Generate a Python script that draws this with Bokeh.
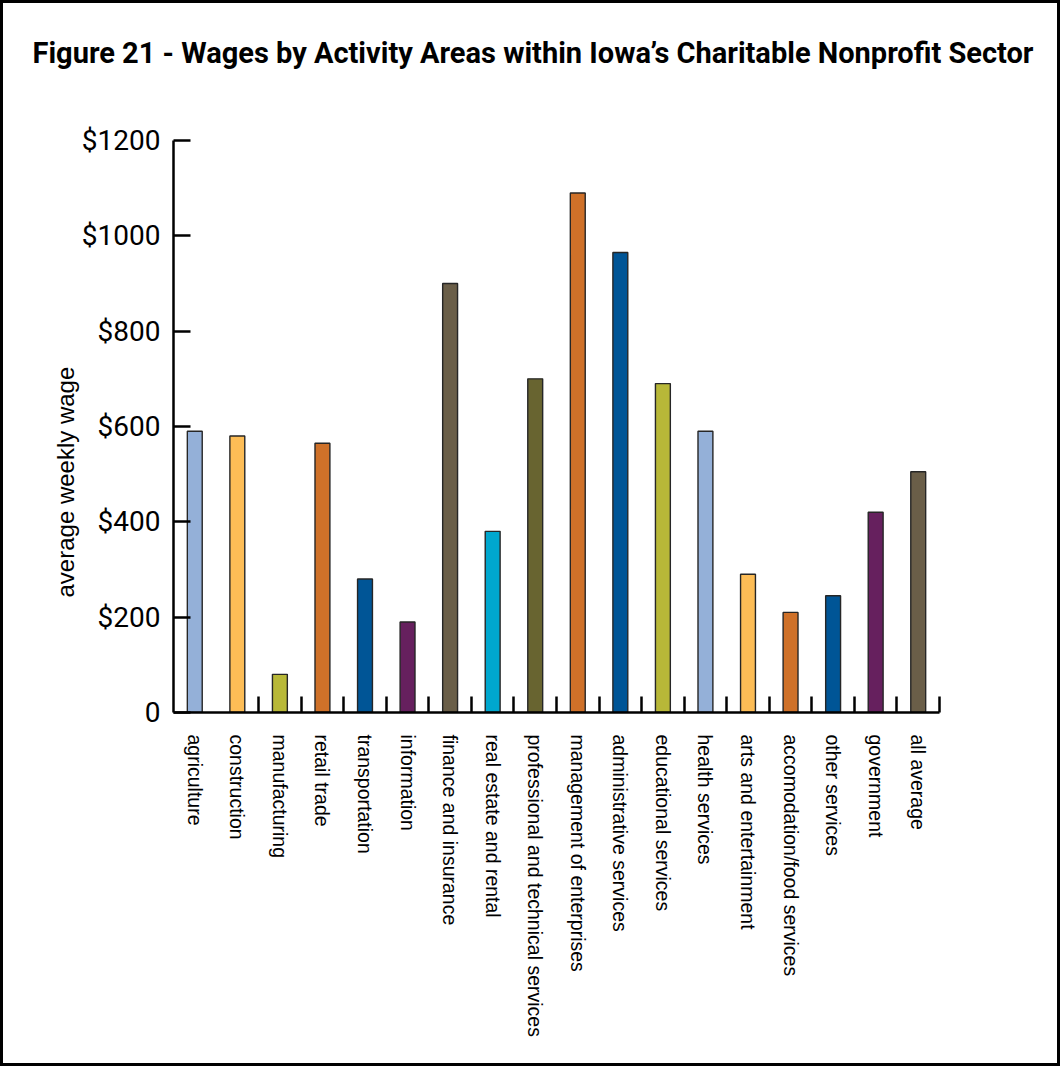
import math
from bokeh.plotting import figure
from bokeh.models import Range1d, FixedTicker, ColumnDataSource, Title, LinearAxis
from bokeh.embed import file_html
from bokeh.resources import INLINE

# ---- data ----
categories = [
    "agriculture", "construction", "manufacturing", "retail trade",
    "transportation", "information", "finance and insurance",
    "real estate and rental", "professional and technical services",
    "management of enterprises", "administrative services",
    "educational services", "health services", "arts and entertainment",
    "accomodation/food services", "other services", "government", "all average",
]
wages = [590, 580, 80, 565, 280, 190, 900, 380, 700, 1090, 965, 690, 590, 290, 210, 245, 420, 505]
bar_colors = [
    "#94B0D8", "#FDBD56", "#B8B838", "#CF7129", "#005596", "#66205E",
    "#6A5E48", "#00A7CE", "#686430", "#CF7129", "#005596", "#B8B838",
    "#94B0D8", "#FDBD56", "#CF7129", "#005596", "#66205E", "#6A5E48",
]
y_ticks = [0, 200, 400, 600, 800, 1000, 1200]
y_tick_labels = ["0", "$200", "$400", "$600", "$800", "$1000", "$1200"]
title_text = "Figure 21 - Wages by Activity Areas within Iowa\u2019s Charitable Nonprofit Sector"
y_label = "average weekly wage"

# ---- layout constants (canvas pixels) ----
W, H = 1060, 1066
FL, FR, FT, FB = 173, 939, 140, 712
n = len(categories)
YMAX = 1200

xpos = [i + 0.5 for i in range(n)]
src = ColumnDataSource(dict(x=xpos, wage=wages, color=bar_colors, cat=categories))

p = figure(
    width=W, height=H, output_backend="svg", toolbar_location=None,
    x_range=Range1d(0, n), y_range=Range1d(0, YMAX),
    min_border_left=FL, min_border_right=W - FR,
    min_border_top=FT, min_border_bottom=H - FB,
)
p.styles = {"box-shadow": "inset 0 0 0 3px black", "background-color": "white"}

p.vbar(x="x", top="wage", width=0.35, source=src, fill_color="color",
       line_color="#262626", line_width=1.4)

p.xgrid.visible = False
p.ygrid.visible = False
p.outline_line_color = None
p.background_fill_color = "white"
p.border_fill_color = None

# x axis (below)
xax = p.below[0]
xax.ticker = FixedTicker(ticks=xpos, minor_ticks=list(range(2, n + 1)))
xax.major_label_overrides = {x: c for x, c in zip(xpos, categories)}
xax.major_label_orientation = "vertical"
xax.major_tick_in = 0
xax.major_tick_out = 0
xax.minor_tick_in = 16
xax.minor_tick_out = 0
xax.minor_tick_line_width = 2.5
xax.minor_tick_line_color = "black"
xax.axis_line_width = 2.5
xax.axis_line_color = "black"
xax.major_label_text_font = "Liberation Sans"
xax.major_label_text_font_size = "19.5px"
xax.major_label_text_color = "black"
xax.major_label_standoff = 22

# y axis (left)
yax = p.left[0]
yax.ticker = FixedTicker(ticks=y_ticks)
yax.major_label_overrides = {t: s for t, s in zip(y_ticks, y_tick_labels)}
yax.major_tick_in = 17
yax.major_tick_out = 0
yax.major_tick_line_width = 2.5
yax.major_tick_line_color = "black"
yax.minor_tick_line_color = None
yax.axis_line_width = 2.5
yax.axis_line_color = "black"
yax.major_label_text_font = "Roboto"
yax.major_label_text_font_size = "28px"
yax.major_label_text_color = "black"
yax.major_label_standoff = 13

# invisible spacer above the frame (a white, label-less axis at the right edge
# whose outward tick reserves room), then the title above it
spacer = LinearAxis(ticker=FixedTicker(ticks=[n]), major_tick_out=71, major_tick_in=0,
                    minor_tick_out=0, minor_tick_in=0, axis_line_color=None,
                    major_tick_line_color="white", major_tick_line_width=1,
                    minor_tick_line_color=None,
                    major_label_overrides={n: ""}, major_label_standoff=0,
                    major_label_text_font_size="1px", major_label_text_color="white")
p.add_layout(spacer, "above")
p.add_layout(Title(text=title_text, align="left", offset=32 - FL, standoff=0,
                   vertical_align="bottom", text_font="Roboto",
                   text_font_size="29px", text_font_style="bold",
                   text_color="black"), "above")

# y axis title, left of the tick labels, starting 115px above the frame bottom
p.add_layout(Title(text=y_label, align="left", offset=115, standoff=0,
                   vertical_align="bottom", text_font="Liberation Sans",
                   text_font_size="24px", text_font_style="normal",
                   text_color="black"), "left")

open("out.html", "w").write(file_html(p, INLINE))
